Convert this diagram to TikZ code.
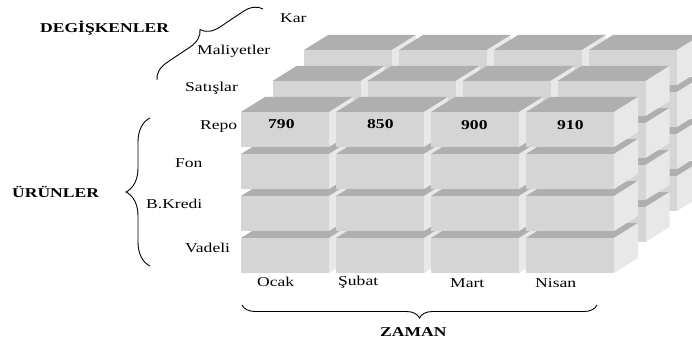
\documentclass[tikz,border=0pt]{standalone}
\usepackage{fontspec}
\setmainfont{Liberation Serif}
\newfontfamily\labfont[FakeStretch=1.3]{Liberation Serif}
\usetikzlibrary{decorations.pathreplacing}
\definecolor{topc}{HTML}{AFAFAF}
\definecolor{frontc}{HTML}{D5D5D5}
\definecolor{sidec}{HTML}{E8E8E8}
\newcommand{\mycube}[2]{%
  \fill[topc] (#1,#2) -- ++(24,-15) -- ++(88,0) -- ++(-24,15) -- cycle;
  \fill[sidec] (#1+88,#2) -- ++(24,-15) -- ++(0,35) -- ++(-24,15) -- cycle;
  \fill[frontc] (#1,#2) rectangle ++(88,35);
}
\tikzset{
  lab/.style={anchor=base west, inner sep=0pt, font=\labfont\fontsize{13.5}{15}\selectfont},
  blab/.style={lab, font=\labfont\bfseries\fontsize{13.5}{15}\selectfont},
  brc/.style={draw=black, line width=0.9pt, decorate, decoration={brace, amplitude=#1}},
}
\begin{document}
\begin{tikzpicture}[x=1pt,y=-1pt]
\useasboundingbox (0,0) rectangle (692,342);
\clip (0,0) rectangle (692,342);
\fill[white] (0,0) rectangle (692,342);
% cubes: layers back to front, rows bottom to top, columns left to right
\foreach \L in {2,1,0}{
  \foreach \k in {3,2,1,0}{
    \foreach \i in {0,1,2,3}{
      \pgfmathsetmacro\cx{241+95*\i+31.5*\L}
      \pgfmathsetmacro\cy{112+42*\k-31*\L}
      \mycube{\cx}{\cy}
    }}}
% values
\node[blab] (v1) at (268,128) {790};
\node[blab] (v2) at (367,128) {850};
\node[blab] (v3) at (461,129) {900};
\node[blab] (v4) at (557,129) {910};
% variable labels
\node[lab] (kar) at (280,23) {Kar};
\node[lab] (mal) at (197,55) {Maliyetler};
\node[lab] (sat) at (185,92) {Satışlar};
% product labels
\node[lab] (repo) at (200,129) {Repo};
\node[lab] (fon) at (175,167) {Fon};
\node[lab] (bkr) at (146,208) {B.Kredi};
\node[lab] (vad) at (185,252) {Vadeli};
% months
\node[lab] (ocak) at (257,286) {Ocak};
\node[lab] (sub) at (338,285) {Şubat};
\node[lab] (mart) at (450,287) {Mart};
\node[lab] (nis) at (535,287) {Nisan};
% titles
\node[blab] (deg) at (40,33) {DEGİŞKENLER};
\node[blab] (urun) at (12,197) {ÜRÜNLER};
\node[blab] (zam) at (380,336) {ZAMAN};
% braces
\coordinate (d1) at (157,80);
\coordinate (d2) at (263,9);
\draw[brc=18] (d1) -- (d2);
\coordinate (u1) at (150,266);
\coordinate (u2) at (150,118);
\draw[brc=24] (u1) -- (u2);
\coordinate (z1) at (597,305);
\coordinate (z2) at (242,305);
\draw[brc=13] (z1) -- (z2);
\end{tikzpicture}
\end{document}
